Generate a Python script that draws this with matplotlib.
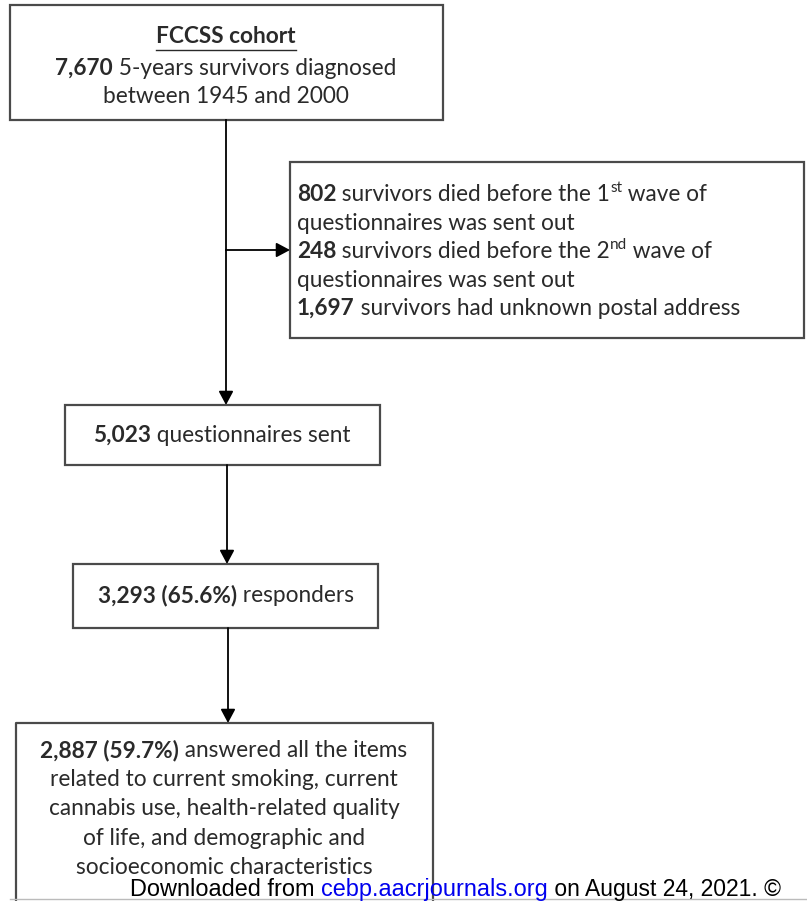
import matplotlib
matplotlib.use("Agg")
import matplotlib.pyplot as plt
from matplotlib.patches import Rectangle, FancyArrowPatch

# ---- data (flowchart content) ----
cohort_title = "FCCSS cohort"
cohort_n = "7,670"
cohort_lines = [[(cohort_n, True, False), (" 5-years survivors diagnosed", False, False)],
                [("between 1945 and 2000", False, False)]]
excl_counts = ["802", "248", "1,697"]
excl_lines = [
    [(excl_counts[0], True, False), (" survivors died before the 1", False, False), ("st", False, True), (" wave of", False, False)],
    [("questionnaires was sent out", False, False)],
    [(excl_counts[1], True, False), (" survivors died before the 2", False, False), ("nd", False, True), (" wave of", False, False)],
    [("questionnaires was sent out", False, False)],
    [(excl_counts[2], True, False), (" survivors had unknown postal address", False, False)],
]
sent_n = "5,023"
resp_n, resp_pct = "3,293", "65.6%"
final_n, final_pct = "2,887", "59.7%"
final_lines = [
    [(f"{final_n} ({final_pct})", True, False), (" answered all the items", False, False)],
    [("related to current smoking, current", False, False)],
    [("cannabis use, health-related quality", False, False)],
    [("of life, and demographic and", False, False)],
    [("socioeconomic characteristics", False, False)],
]

W, H = 807, 901
FONT = ["Lato", "DejaVu Sans"]
FS = 16.3
TXT = "#2a2a2a"
EDGE = "#4a4a4a"

fig = plt.figure(figsize=(W / 100, H / 100), dpi=100)
ax = fig.add_axes([0, 0, 1, 1])
ax.set_xlim(0, W)
ax.set_ylim(H, 0)
ax.axis("off")
renderer = fig.canvas.get_renderer()


def runs_line(x, y, runs, align="center", fs=FS, color=TXT, family=FONT):
    arts = []
    cur = x
    for text, bold, sup in runs:
        size = fs * 0.68 if sup else fs
        yy = y - fs * 0.55 if sup else y
        t = ax.text(cur, yy, text, fontsize=size, fontweight="bold" if bold else "normal",
                    family=family, color=color, ha="left", va="baseline")
        bb = t.get_window_extent(renderer)
        cur += bb.width
        arts.append(t)
    total = cur - x
    if align == "center":
        for t in arts:
            px, py = t.get_position()
            t.set_position((px - total / 2, py))
    return arts, total


def box(x0, y0, x1, y1, bottom=True):
    if bottom:
        ax.add_patch(Rectangle((x0, y0), x1 - x0, y1 - y0, fill=False, ec=EDGE, lw=1.6))
    else:
        ax.plot([x0, x0, x1, x1], [y1, y0, y0, y1], color=EDGE, lw=1.6, solid_capstyle="butt")


def arrow(x0, y0, x1, y1):
    ax.add_patch(FancyArrowPatch((x0, y0), (x1, y1), arrowstyle="-|>,head_length=0.75,head_width=0.4",
                                 mutation_scale=11, color="black", lw=1.3, shrinkA=0, shrinkB=0))

# Box 1
box(10, 5, 443, 120)
arts, wd = runs_line(226, 43, [(cohort_title, True, False)])
ax.plot([226 - wd / 2, 226 + wd / 2], [50, 50], color=TXT, lw=1.0)
for (yb, ln) in zip([75, 103], cohort_lines):
    runs_line(226, yb, ln)

# vertical connector & branch
ax.plot([226, 226], [120, 250], color="black", lw=1.3)
arrow(226, 250, 226, 405)
arrow(226, 250, 290, 250)

# Box 2
box(290, 162, 804, 338)
for yb, ln in zip([201, 230, 258, 287, 315], excl_lines):
    runs_line(297, yb, ln, align="left")

# Box 3
box(65, 405, 380, 465)
runs_line(222, 442, [(sent_n, True, False), (" questionnaires sent", False, False)])
arrow(227, 465, 227, 564)

# Box 4
box(73, 564, 378, 628)
runs_line(226, 602, [(f"{resp_n} ({resp_pct})", True, False), (" responders", False, False)])
arrow(228, 628, 228, 723)

# Box 5 (cut at bottom)
box(16, 723, 433, 905, bottom=False)
for yb, ln in zip([757, 786, 815, 845, 874], final_lines):
    runs_line(224, yb, ln)

# bottom watermark line
ax.plot([10, 807], [899, 899], color="#bbbbbb", lw=1.0)
DL = ["Liberation Sans", "DejaVu Sans"]
DFS = 16.9
BY = 896
arts, w1 = runs_line(130, BY, [("Downloaded from ", False, False)], align="left", fs=DFS, color="black", family=DL)
x1 = 130 + w1
a2, w2 = runs_line(x1, BY, [("cebp.aacrjournals.org", False, False)], align="left", fs=DFS, color="#0000ee", family=DL)
runs_line(x1 + w2, BY, [(" on August 24, 2021. \u00a9", False, False)], align="left", fs=DFS - 0.4, color="black", family=DL)

fig.savefig("out.png", dpi=100)
